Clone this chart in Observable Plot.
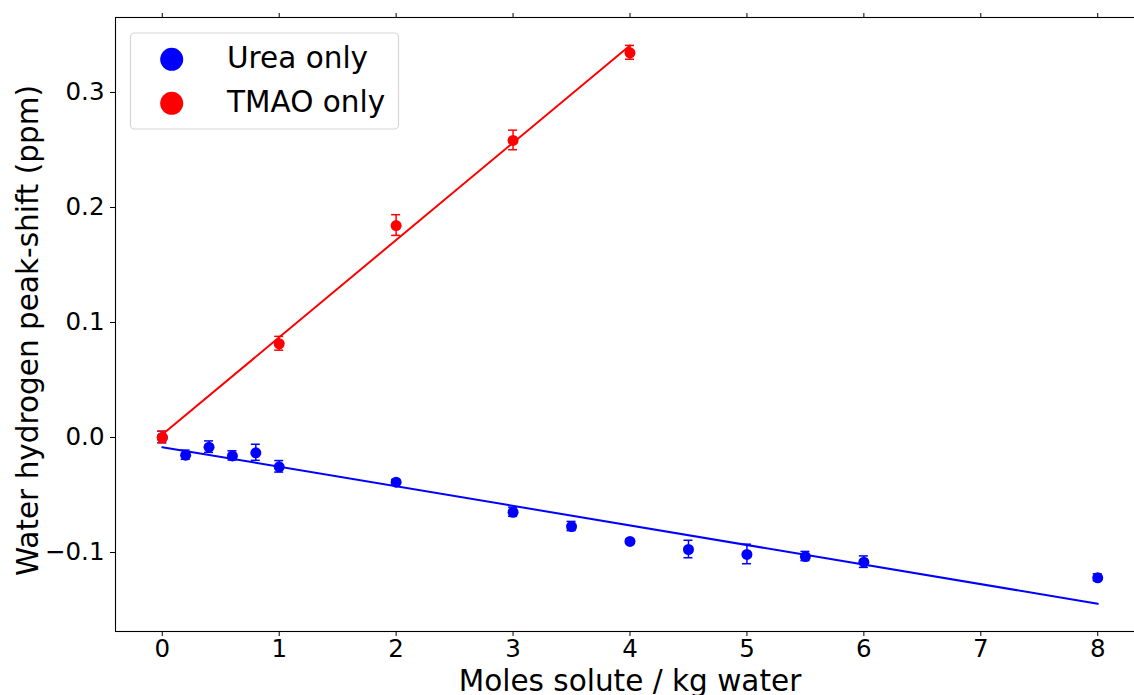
<!DOCTYPE html>
<html>
<head>
<meta charset="utf-8">
<script src="https://cdn.jsdelivr.net/npm/d3@7"></script>
<script src="https://cdn.jsdelivr.net/npm/@observablehq/plot@0.6"></script>
<style>
  html, body { margin: 0; padding: 0; background: white; overflow: hidden; }
  #wrap { position: relative; width: 1134px; height: 695px; }
  #legend { position: absolute; left: 0; top: 0; pointer-events: none; }
</style>
</head>
<body>
<div id="wrap"></div>
<script>
// ---- data ----
const ureaX   = [0, 0.2, 0.4, 0.6, 0.8, 1.0, 2, 3, 3.5, 4, 4.5, 5, 5.5, 6, 8];
const ureaY   = [0, -0.0154, -0.0084, -0.0160, -0.0133, -0.0255, -0.0389, -0.0650, -0.0774, -0.0904, -0.0974, -0.1017, -0.1035, -0.1084, -0.1220];
const ureaErr = [0.005, 0.004, 0.005, 0.004, 0.007, 0.005, 0.002, 0.004, 0.004, 0.0015, 0.0076, 0.0085, 0.004, 0.005, 0.003];

const tmaoX   = [0, 1, 2, 3, 4];
const tmaoY   = [0, 0.0815, 0.1843, 0.2583, 0.3345];
const tmaoErr = [0.005, 0.006, 0.009, 0.0085, 0.006];

const seriesNames  = ["Urea only", "TMAO only"];
const seriesColors = ["#0000ff", "#ff0000"];

const xTicks = [0, 1, 2, 3, 4, 5, 6, 7, 8];
const yTicks = [-0.1, 0.0, 0.1, 0.2, 0.3];

const xLabel = "Moles solute / kg water";
const yLabel = "Water hydrogen peak-shift (ppm)";

// ---- build tables ----
const urea = ureaX.map((x, i) => ({x, y: ureaY[i], e: ureaErr[i]}));
const tmao = tmaoX.map((x, i) => ({x, y: tmaoY[i], e: tmaoErr[i]}));

function seriesMarks(data, color) {
  return [
    Plot.ruleX(data, {x: "x", y1: d => d.y - d.e, y2: d => d.y + d.e, stroke: color, strokeWidth: 1.5}),
    Plot.rect(data, {x1: "x", x2: "x", y1: d => d.y + d.e, y2: d => d.y + d.e, fill: color,
      insetLeft: -4.5, insetRight: -4.5, insetTop: -0.75, insetBottom: -0.75}),
    Plot.rect(data, {x1: "x", x2: "x", y1: d => d.y - d.e, y2: d => d.y - d.e, fill: color,
      insetLeft: -4.5, insetRight: -4.5, insetTop: -0.75, insetBottom: -0.75}),
    Plot.dot(data, {x: "x", y: "y", r: 5.5, fill: color, stroke: "none"}),
    Plot.linearRegressionY(data, {x: "x", y: "y", stroke: color, strokeWidth: 2, ci: 0})
  ];
}

const fontFamily = "'DejaVu Sans', sans-serif";

const chart = Plot.plot({
  width: 1134,
  height: 695,
  marginLeft: 115,
  marginRight: 0,
  marginTop: 17,
  marginBottom: 64,
  x: {domain: [-0.4, 8.4], range: [115, 1144]},
  y: {domain: [-0.1687, 0.3652]},
  style: {fontFamily, fontSize: "24px", color: "black", background: "white"},
  marks: [
    Plot.frame({stroke: "black", strokeWidth: 1.1, insetRight: -12}),
    Plot.axisX({ticks: xTicks, tickSize: 5, tickPadding: 3, fontSize: 24.5, label: null, tickFormat: d => String(d)}),
    Plot.axisX({anchor: "top", ticks: xTicks, tickSize: 5, tickFormat: () => "", label: null}),
    Plot.axisY({ticks: yTicks, tickSize: 5, tickPadding: 6, fontSize: 24.5, label: null, tickFormat: d3.format(".1f")}),
    ...seriesMarks(urea, seriesColors[0]),
    ...seriesMarks(tmao, seriesColors[1]),
    Plot.text([xLabel], {text: d => d, frameAnchor: "bottom", textAnchor: "middle", lineAnchor: "middle", dy: 50, dx: 5, fontSize: 29.5}),
    Plot.text([yLabel], {text: d => d, frameAnchor: "left", textAnchor: "middle", lineAnchor: "middle", rotate: -90, dx: -87, dy: 6, fontSize: 29.5})
  ]
});

const wrap = document.getElementById("wrap");
wrap.appendChild(chart);

// ---- legend overlay ----
const leg = d3.select(wrap).append("svg")
  .attr("id", "legend")
  .attr("width", 1134).attr("height", 695);
leg.append("rect")
  .attr("x", 130.5).attr("y", 33).attr("width", 268).attr("height", 96)
  .attr("rx", 4).attr("ry", 4)
  .attr("fill", "rgba(255,255,255,0.8)")
  .attr("stroke", "#d6d6d6").attr("stroke-width", 1.2);
seriesNames.forEach((name, i) => {
  const cy = 59.3 + i * 44;
  leg.append("circle").attr("cx", 171.7).attr("cy", cy).attr("r", 11.5).attr("fill", seriesColors[i]);
  leg.append("text").attr("x", 227).attr("y", cy + 8.3)
    .attr("font-family", fontFamily).attr("font-size", 29.5).attr("fill", "black")
    .text(name);
});
</script>
</body>
</html>
